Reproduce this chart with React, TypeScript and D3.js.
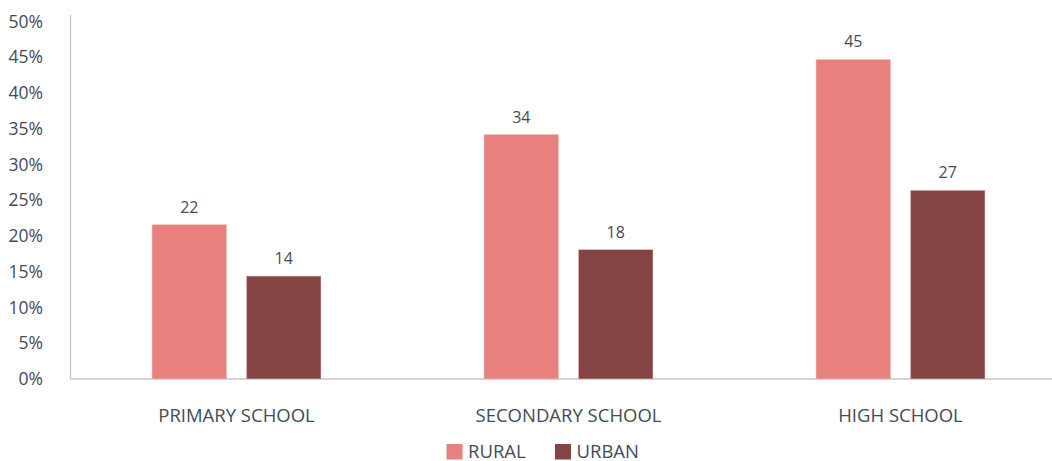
import React from "react";
import * as d3 from "d3";

const categories = ["PRIMARY SCHOOL", "SECONDARY SCHOOL", "HIGH SCHOOL"];
const seriesNames = ["RURAL", "URBAN"];
const rural = [21.6, 34.2, 44.7];
const urban = [14.4, 18.1, 26.4];
const ruralLabels = ["22", "34", "45"];
const urbanLabels = ["14", "18", "27"];
const yTicks = [0, 5, 10, 15, 20, 25, 30, 35, 40, 45, 50];

const colors = ["#E8807D", "#844444"];
const textColor = "#454a57";
const font = "'Open Sans', sans-serif";

export default function App() {
  const W = 1052;
  const H = 461;
  const left = 70.5;
  const y0 = 379;
  const y50 = 21.5;
  const x = d3.scaleBand<string>().domain(categories).range([left, left + 332 * 3]).paddingInner(0).paddingOuter(0);
  const inner = d3.scaleBand<string>().domain(seriesNames).range([0, 169]).paddingInner(0.21);
  const y = d3.scaleLinear().domain([0, 50]).range([y0, y50]);
  const series = [
    { name: seriesNames[0], values: rural, labels: ruralLabels, color: colors[0] },
    { name: seriesNames[1], values: urban, labels: urbanLabels, color: colors[1] },
  ];
  const groupOffset = (x.bandwidth() - 169) / 2;

  return (
    <svg width={W} height={H} style={{ position: "absolute", left: 0, top: 0, background: "#fff" }}>
      <line x1={left} x2={left} y1={15} y2={y0} stroke="#c4c4c4" strokeWidth={1.3} />
      <line x1={left} x2={W} y1={y0} y2={y0} stroke="#c4c4c4" strokeWidth={1.3} />
      {yTicks.map((t) => (
        <text key={t} x={43} y={y(t)} dy="0.35em" textAnchor="end" fontFamily={font} fontSize={17.5} fill={textColor}>
          {t}%
        </text>
      ))}
      {categories.map((c, i) => (
        <g key={c}>
          {series.map((s) => {
            const bx = (x(c) as number) + groupOffset + (inner(s.name) as number);
            const by = y(s.values[i]);
            return (
              <g key={s.name}>
                <rect x={bx} y={by} width={inner.bandwidth()} height={y0 - by} fill={s.color} stroke="#f3c9c8" strokeWidth={0.6} />
                <text x={bx + inner.bandwidth() / 2} y={by - 17.5} dy="0.35em" textAnchor="middle" fontFamily={font} fontSize={16} fill={textColor}>
                  {s.labels[i]}
                </text>
              </g>
            );
          })}
          <text x={(x(c) as number) + x.bandwidth() / 2} y={415.5} dy="0.35em" textAnchor="middle" fontFamily={font} fontSize={18.5} fill={textColor}>
            {c}
          </text>
        </g>
      ))}
      {series.map((s, i) => {
        const lx = i === 0 ? 446.5 : 555;
        return (
          <g key={s.name}>
            <rect x={lx} y={444} width={16} height={15.5} fill={s.color} />
            <text x={lx + 21.5} y={452} dy="0.35em" fontFamily={font} fontSize={18.5} fill={textColor}>
              {s.name}
            </text>
          </g>
        );
      })}
    </svg>
  );
}
